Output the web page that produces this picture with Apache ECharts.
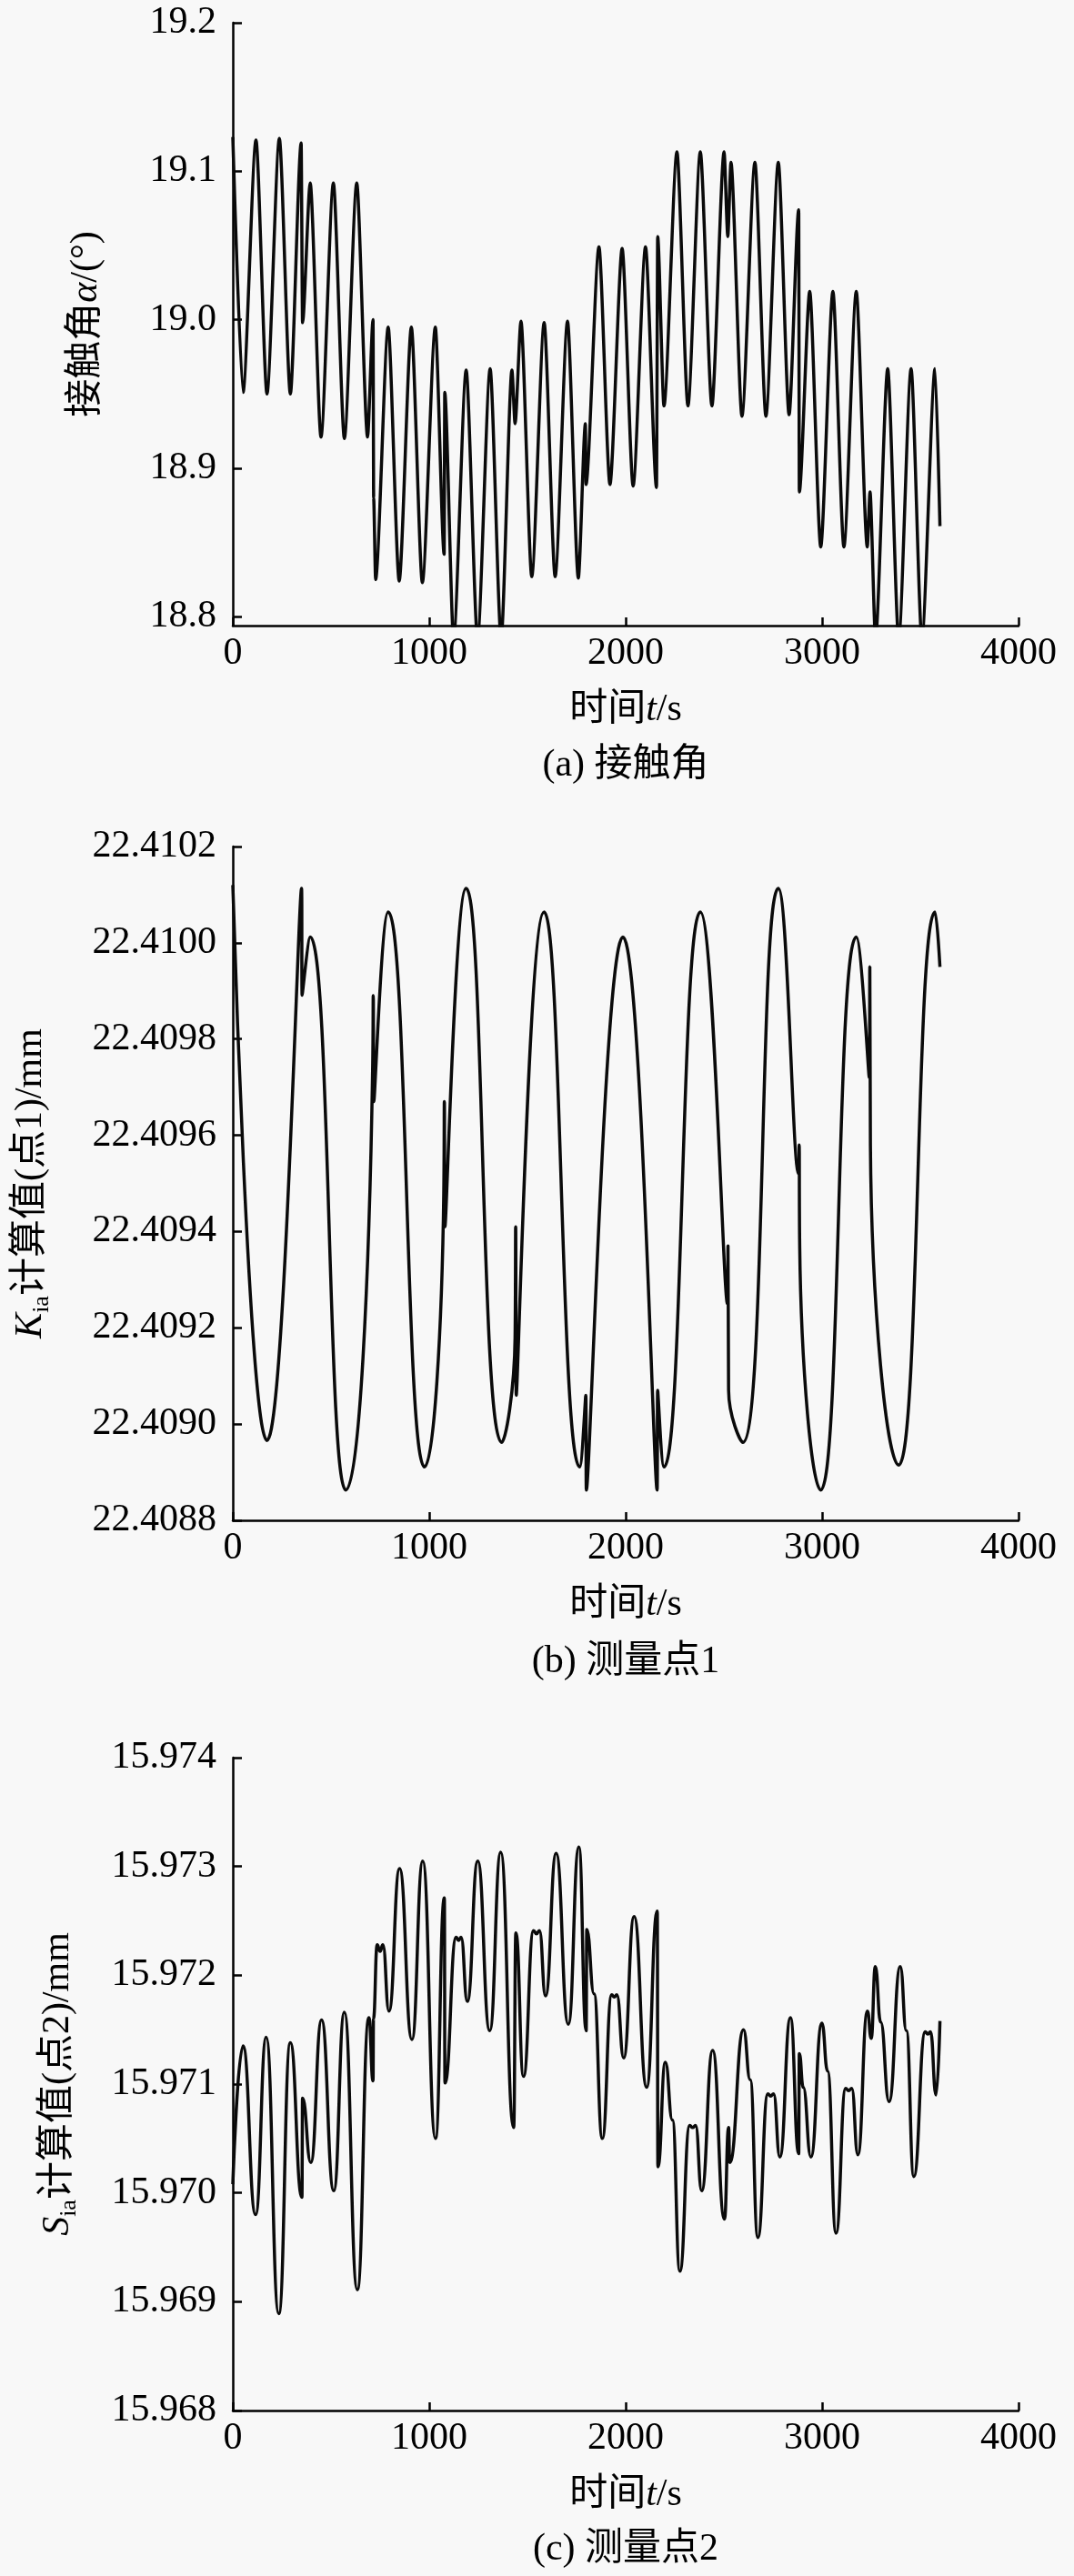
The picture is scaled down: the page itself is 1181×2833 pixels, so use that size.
<!DOCTYPE html>
<html>
<head>
<meta charset="utf-8">
<script src="https://cdn.jsdelivr.net/npm/echarts@6/dist/echarts.min.js"></script>
<style>
html,body{margin:0;padding:0;background:#f8f8f8;}
#c{width:1181px;height:2833px;}
</style>
</head>
<body>
<div id="c"></div>
<script>
// ---- Panel (a): contact angle ----
const tA = [0,52,118,174,237,293,348,355,394,449,512,568,631,686,714,717,727,791,847,909,965,1031,1076,1079,1124,1188,1246,1310,1366,1421,1437,1467,1522,1585,1641,1704,1759,1795,1798,1864,1920,1982,2038,2101,2157,2163,2195,2261,2317,2380,2439,2501,2520,2536,2592,2658,2714,2777,2832,2881,2884,2937,2993,3055,3111,3174,3230,3244,3272,3334,3390,3453,3508,3575,3600];
const alphaA = [19.123,18.951,19.121,18.950,19.122,18.950,19.119,18.998,19.092,18.921,19.092,18.920,19.092,18.921,19.000,18.880,18.825,18.995,18.824,18.995,18.823,18.995,18.842,18.951,18.785,18.966,18.785,18.967,18.785,18.966,18.930,18.999,18.827,18.998,18.827,18.999,18.826,18.930,18.889,19.049,18.889,19.048,18.888,19.049,18.887,19.056,18.942,19.113,18.942,19.113,18.942,19.113,19.056,19.106,18.935,19.106,18.935,19.106,18.936,19.074,18.884,19.019,18.847,19.019,18.847,19.019,18.847,18.884,18.785,18.967,18.785,18.967,18.785,18.967,18.861];
const ticksA = [18.8,18.9,19.0,19.1,19.2];

// ---- Panel (b): K_ia at point 1 ----
const tB = [0,174,350,353,394,575,712,715,718,791,976,1074,1077,1080,1188,1369,1437,1440,1443,1585,1766,1797,1800,1986,2160,2163,2195,2380,2518,2521,2524,2596,2777,2880,2883,2886,2993,3174,3240,3243,3246,3390,3575,3600];
const kB = [22.41012,22.408966,22.410113,22.409891,22.410012,22.408863,22.40974,22.40989,22.40967,22.410064,22.408911,22.40948,22.40967,22.40941,22.410113,22.408962,22.40918,22.40941,22.40906,22.410064,22.408911,22.40906,22.408863,22.410012,22.408863,22.40907,22.408911,22.410064,22.40925,22.40937,22.40907,22.408962,22.410113,22.40952,22.40958,22.40937,22.408863,22.410012,22.40972,22.40995,22.40958,22.408915,22.410064,22.40995];
const ticksB = [22.4088,22.4090,22.4092,22.4094,22.4096,22.4098,22.4100,22.4102];

// ---- Panel (c): S_ia at point 2 ----
const tC = [0,52,116,170,234,293,352,355,397,452,514,568,634,693,714,716,735,750,764,795,849,912,967,1032,1077,1080,1137,1150,1162,1194,1247,1308,1364,1430,1441,1480,1531,1546,1561,1592,1646,1708,1762,1799,1802,1839,1881,1929,1942,1955,1990,2043,2107,2161,2164,2202,2238,2276,2326,2341,2356,2387,2443,2503,2524,2530,2600,2634,2673,2724,2738,2753,2785,2839,2881,2884,2904,2943,2999,3028,3071,3120,3135,3151,3182,3231,3250,3271,3298,3341,3398,3429,3467,3525,3538,3552,3580,3600];
const sC = [15.97008,15.97135,15.96980,15.97143,15.96889,15.97138,15.96996,15.97087,15.97028,15.97159,15.97002,15.97166,15.96911,15.97161,15.97103,15.97160,15.97228,15.97222,15.97228,15.97167,15.97298,15.97141,15.97305,15.97050,15.97271,15.97101,15.97235,15.97232,15.97235,15.97176,15.97305,15.97149,15.97313,15.97060,15.97239,15.97107,15.97241,15.97238,15.97241,15.97181,15.97312,15.97155,15.97318,15.97149,15.97242,15.97183,15.97050,15.97182,15.97180,15.97182,15.97124,15.97254,15.97097,15.97259,15.97024,15.97120,15.97067,15.96928,15.97062,15.97060,15.97062,15.97002,15.97131,15.96976,15.97060,15.97028,15.97150,15.97104,15.96959,15.97091,15.97089,15.97091,15.97033,15.97161,15.97036,15.97128,15.97097,15.97033,15.97156,15.97112,15.96963,15.97096,15.97094,15.97096,15.97035,15.97167,15.97142,15.97208,15.97157,15.97084,15.97208,15.97149,15.97015,15.97148,15.97146,15.97148,15.97090,15.97158];
const ticksC = [15.968,15.969,15.970,15.971,15.972,15.973,15.974];

const xTicks = [0,1000,2000,3000,4000];
const captions = ['(a) 接触角','(b) 测量点1','(c) 测量点2'];

const FONT = '"Liberation Serif", "Noto Sans CJK SC", serif';
const FS = 42;
const black = '#000';

const rich = {
  n: {fontFamily: FONT, fontSize: FS, color: black, lineHeight: 50},
  it: {fontFamily: FONT, fontSize: FS, fontStyle: 'italic', color: black, lineHeight: 50},
  sub: {fontFamily: FONT, fontSize: 26, color: black, lineHeight: 26, verticalAlign: 'bottom'}
};

const grids = [
  {left: 256, width: 864, top: 25, height: 663},
  {left: 256, width: 864, top: 931, height: 741},
  {left: 256, width: 864, top: 1933, height: 718}
];

function xAxis(i) {
  return {
    type: 'value', gridIndex: i, min: xTicks[0], max: xTicks[xTicks.length - 1], interval: 1000,
    name: '{n|时间}{it|t}{n|/s}', nameLocation: 'middle', nameGap: 68,
    nameTextStyle: {rich: rich},
    axisLine: {show: true, onZero: false, lineStyle: {color: black, width: 2.5}},
    axisTick: {show: true, inside: true, length: 9, customValues: xTicks, lineStyle: {color: black, width: 2.5}},
    axisLabel: {fontFamily: FONT, fontSize: FS, color: black, margin: 10, customValues: xTicks,
      formatter: v => String(Math.round(v))},
    splitLine: {show: false}
  };
}

function yAxis(i, min, max, ticks, dec, name, gap) {
  return {
    type: 'value', gridIndex: i, min: min, max: max,
    name: name, nameLocation: 'middle', nameGap: gap,
    nameTextStyle: {rich: rich},
    axisLine: {show: true, onZero: false, lineStyle: {color: black, width: 2.5}},
    axisTick: {show: true, inside: true, length: 10, customValues: ticks, lineStyle: {color: black, width: 2.5}},
    axisLabel: {fontFamily: FONT, fontSize: FS, color: black, margin: 18, customValues: ticks,
      formatter: v => Number(v).toFixed(dec)},
    splitLine: {show: false}
  };
}

function zip(t, v) { return t.map((x, k) => [x, v[k]]); }

function lineSeries(i, data, smooth, mono) {
  const s = {
    type: 'line', xAxisIndex: i, yAxisIndex: i, data: data,
    showSymbol: false, smooth: smooth, clip: true,
    lineStyle: {color: '#0a0a0a', width: 3.5}, animation: false
  };
  if (mono) s.smoothMonotone = mono;
  return s;
}

const capY = [842, 1828, 2804];

const option = {
  backgroundColor: '#f8f8f8',
  animation: false,
  grid: grids,
  xAxis: [xAxis(0), xAxis(1), xAxis(2)],
  yAxis: [
    yAxis(0, 18.794, 19.2, ticksA, 1, '{n|接触角}{it|α}{n|/(°)}', 136),
    yAxis(1, 22.4088, 22.4102, ticksB, 4, '{it|K}{sub|ia}{n|计算值(点1)/mm}', 197),
    yAxis(2, 15.968, 15.974, ticksC, 3, '{it|S}{sub|ia}{n|计算值(点2)/mm}', 167)
  ],
  series: [
    lineSeries(0, zip(tA, alphaA), 0.25, 'x'),
    lineSeries(1, zip(tB, kB), 0.5, null),
    lineSeries(2, zip(tC, sC), 0.5, 'x')
  ],
  title: captions.map((c, k) => ({
    text: c, left: 688, top: capY[k] - 25, textAlign: 'center', padding: 0,
    textStyle: {fontFamily: FONT, fontSize: FS, fontWeight: 'normal', color: black, lineHeight: 50}
  }))
};

const chart = echarts.init(document.getElementById('c'), null, {renderer: 'canvas'});
chart.setOption(option);
</script>
</body>
</html>
